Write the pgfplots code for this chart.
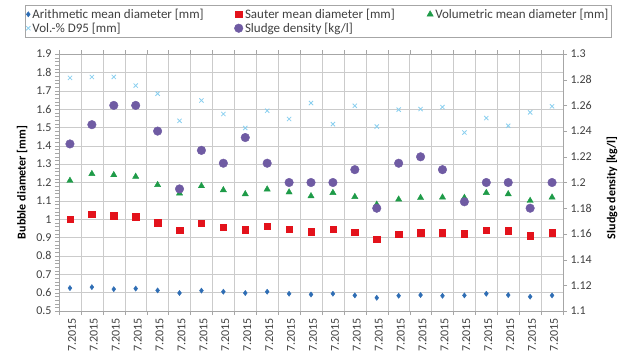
\documentclass[border=0pt]{standalone}
\usepackage{fontspec}
\setmainfont{Carlito}
\usepackage{pgfplots}
\usepackage{pgfplotstable}
\pgfplotsset{compat=1.18}
\definecolor{cA}{HTML}{2E6DB4}
\definecolor{cS}{HTML}{E3121B}
\definecolor{cV}{HTML}{1E9B48}
\definecolor{cD}{HTML}{8ACFEF}
\definecolor{cP}{HTML}{6F5BA3}
\definecolor{gridc}{HTML}{CBCBCB}
\definecolor{axc}{HTML}{A6A6A6}
\definecolor{txt}{HTML}{404040}

\pgfplotstableread{
i  arith  sauter  vol    d95    dens
0  0.625  0.999   1.210  1.770  1.230
1  0.630  1.026   1.247  1.775  1.245
2  0.619  1.019   1.241  1.775  1.260
3  0.622  1.013   1.232  1.728  1.260
4  0.612  0.980   1.187  1.684  1.240
5  0.598  0.940   1.141  1.536  1.195
6  0.611  0.977   1.181  1.647  1.225
7  0.605  0.958   1.159  1.573  1.215
8  0.598  0.942   1.137  1.497  1.235
9  0.605  0.962   1.163  1.591  1.215
10 0.594  0.944   1.147  1.546  1.200
11 0.590  0.931   1.126  1.633  1.200
12 0.594  0.944   1.144  1.518  1.200
13 0.585  0.928   1.122  1.618  1.210
14 0.572  0.891   1.080  1.505  1.180
15 0.583  0.919   1.108  1.597  1.215
16 0.587  0.926   1.117  1.600  1.220
17 0.583  0.926   1.119  1.611  1.210
18 0.585  0.922   1.117  1.472  1.185
19 0.594  0.940   1.144  1.551  1.200
20 0.587  0.937   1.137  1.509  1.200
21 0.578  0.911   1.101  1.582  1.180
22 0.585  0.926   1.119  1.615  1.200
}\datatable

\begin{document}
\begin{tikzpicture}
\pgfplotsset{
  base/.style={
    scale only axis, width=504pt, height=257pt,
    xmin=-0.5, xmax=22.5,
    /pgf/number format/assume math mode=true,
    tick label style={font=\fontsize{12}{14}\selectfont, text=txt},
    axis line style={axc},
    tick style={axc},
    label style={font=\bfseries\fontsize{12}{14}\selectfont, text=black},
    legend image code/.code={\draw[mark repeat=2,mark phase=2,##1] plot coordinates {(0pt,0pt) (4pt,0pt) (8pt,0pt)};},
  }
}
\useasboundingbox (-59pt,-46pt) rectangle (569pt,311pt);
\begin{axis}[base,
  ymin=0.5, ymax=1.9,
  ytick={0.5,0.6,0.7,0.8,0.9,1.0,1.1,1.2,1.3,1.4,1.5,1.6,1.7,1.8,1.9},
  minor y tick num=4,
  ymajorgrids,
  xtick={0,...,22},
  xticklabel={7.2015},
  xticklabel style={rotate=90, anchor=east, yshift=-2pt},
  minor xtick={-0.5,0.5,...,22.5},
  xminorgrids,
  major x tick style={draw=none},
  minor x tick style={axc},
  tick align=outside,
  minor tick length=4pt,
  major tick length=4pt,
  major grid style={gridc},
  minor grid style={gridc},
  ytick pos=left,
  ylabel={Bubble diameter [mm]},
  ylabel style={at={(axis description cs:-0.0734,0.5)}, anchor=center},
  legend columns=3,
  legend cell align=left,
  legend style={at={(axis description cs:-0.0675,1.19)}, anchor=north west,
    draw=axc, font=\fontsize{13}{15}\selectfont, text=txt,
    inner xsep=1pt, inner ysep=1.5pt, row sep=-1pt},
]
\addplot[only marks, mark=diamond*, mark size=2.6pt, color=cA] table[x=i, y=arith] {\datatable};
\addlegendentry{\makebox[200pt][l]{Arithmetic mean diameter [mm]}}
\addplot[only marks, mark=square*, mark size=3.2pt, color=cS] table[x=i, y=sauter] {\datatable};
\addlegendentry{\makebox[180pt][l]{Sauter mean diameter [mm]}}
\addplot[only marks, mark=triangle*, mark size=3.6pt, color=cV] table[x=i, y=vol] {\datatable};
\addlegendentry{Volumetric mean diameter [mm]}
\addplot[only marks, mark=x, mark size=3pt, color=cD, thick] table[x=i, y=d95] {\datatable};
\addlegendentry{Vol.-\% D95 [mm]}
\addlegendimage{only marks, mark=*, mark size=4.3pt, color=cP}
\addlegendentry{Sludge density [kg/l]}
\end{axis}
\begin{axis}[base,
  ymin=1.1, ymax=1.3,
  axis x line=none,
  axis y line*=right,
  ytick={1.1,1.12,1.14,1.16,1.18,1.2,1.22,1.24,1.26,1.28,1.3},
  tick align=outside,
  major tick length=4pt,
  ylabel={Sludge density [kg/l]},
  ylabel style={at={(axis description cs:1.097,0.48)}, anchor=center, rotate=0},
]
\addplot[only marks, mark=*, mark size=4.3pt, color=cP] table[x=i, y=dens] {\datatable};
\end{axis}
\end{tikzpicture}
\end{document}
